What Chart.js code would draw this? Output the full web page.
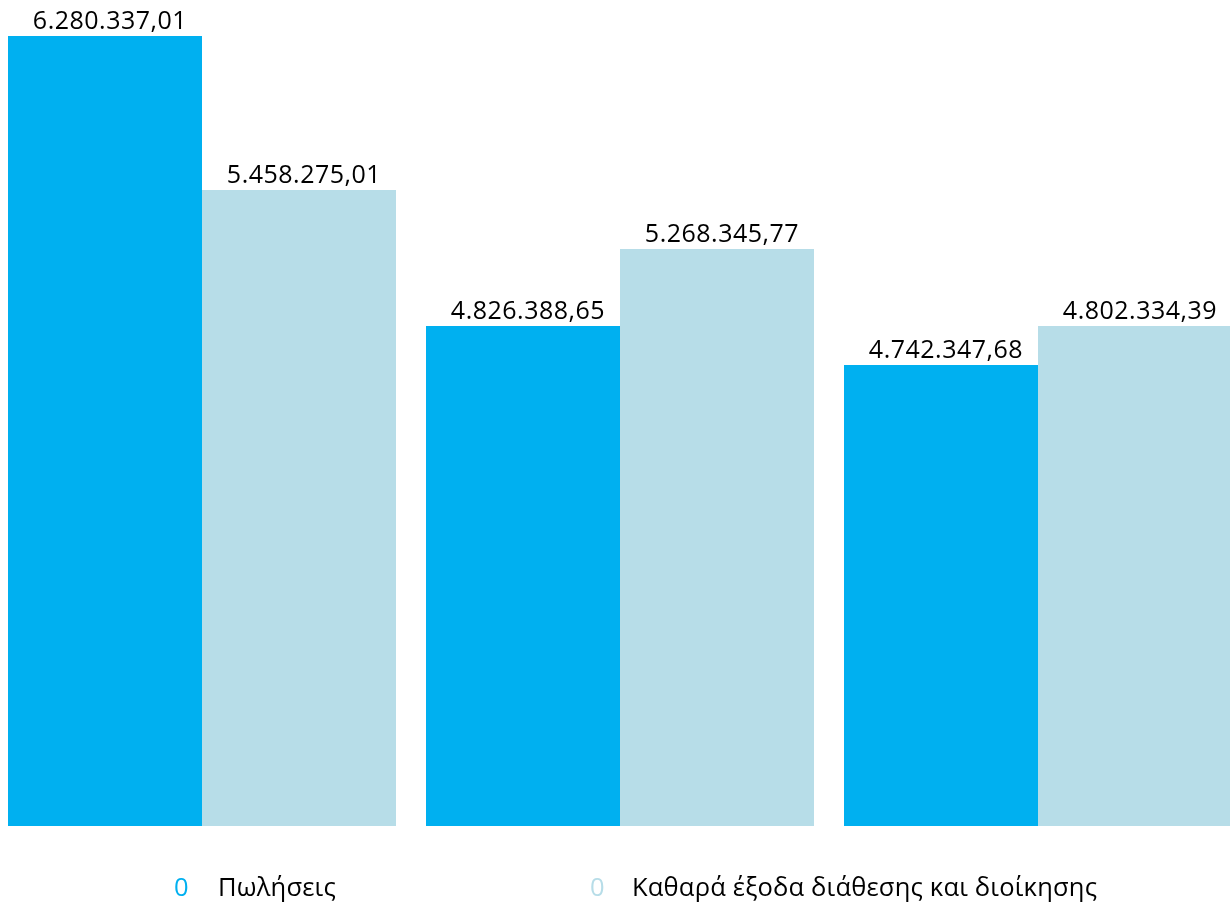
<!DOCTYPE html>
<html>
<head>
<meta charset="utf-8">
<script src="https://cdn.jsdelivr.net/npm/chart.js@4"></script>
<style>
    html, body { margin: 0; padding: 0; background: #fff; overflow: hidden; }
    #wrap { position: absolute; left: -7px; top: 0; width: 1254px; height: 904px; }
</style>
</head>
<body>
<div id="wrap"><canvas id="barChart"></canvas></div>
<script>
// --- Data ---
const categories = ['1', '2', '3'];
const seriesNames = ['Πωλήσεις', 'Καθαρά έξοδα διάθεσης και διοίκησης'];
// bar lengths as they appear in the picture
const salesValues = [6280337.01, 4709000, 4498000];
const expensesValues = [5446000, 5126000, 4709000];
// printed value labels
const salesLabels = ['6.280.337,01', '4.826.388,65', '4.742.347,68'];
const expensesLabels = ['5.458.275,01', '5.268.345,77', '4.802.334,39'];
const axisMin = 2000000;
const axisMax = 6280337.01;

const colors = ['#00B0F0', '#B7DDE8'];
const valueLabels = [salesLabels, expensesLabels];

// --- Value labels above bars ---
const barLabels = {
    id: 'barLabels',
    afterDatasetsDraw(chart) {
        const ctx = chart.ctx;
        ctx.save();
        ctx.font = '25px "Open Sans"';
        ctx.letterSpacing = '0.5px';
        ctx.fillStyle = '#000';
        ctx.textAlign = 'center';
        ctx.textBaseline = 'alphabetic';
        chart.data.datasets.forEach((ds, i) => {
            chart.getDatasetMeta(i).data.forEach((bar, j) => {
                ctx.fillText(valueLabels[i][j], bar.x + 5, bar.y - 7);
            });
        });
        ctx.restore();
    }
};

// --- Legend with "0" markers ---
const textLegend = {
    id: 'textLegend',
    afterDraw(chart) {
        const ctx = chart.ctx;
        const area = chart.chartArea;
        const y = area.bottom + 70;
        const markerX = [181, 597];
        const textX = [225, 639];
        ctx.save();
        ctx.font = '25.5px "Open Sans"';
        ctx.letterSpacing = '0.2px';
        ctx.textBaseline = 'alphabetic';
        ctx.textAlign = 'left';
        chart.data.datasets.forEach((ds, i) => {
            ctx.fillStyle = ds.backgroundColor;
            ctx.fillText('0', markerX[i], y);
            ctx.fillStyle = '#000';
            ctx.fillText(ds.label, textX[i], y);
        });
        ctx.restore();
    }
};

const ctx = document.getElementById('barChart').getContext('2d');
const barChart = new Chart(ctx, {
    type: 'bar',
    data: {
        labels: categories,
        datasets: [
            { label: seriesNames[0], data: salesValues, backgroundColor: colors[0] },
            { label: seriesNames[1], data: expensesValues, backgroundColor: colors[1] }
        ]
    },
    options: {
        responsive: true,
        maintainAspectRatio: false,
        animation: false,
        layout: { padding: { left: 0, right: 0, top: 36, bottom: 78 } },
        datasets: {
            bar: { categoryPercentage: 388 / 418, barPercentage: 1, borderWidth: 0 }
        },
        plugins: {
            legend: { display: false },
            tooltip: { enabled: false }
        },
        scales: {
            x: { display: false },
            y: { display: false, min: axisMin, max: axisMax }
        }
    },
    plugins: [barLabels, textLegend]
});
</script>
</body>
</html>
